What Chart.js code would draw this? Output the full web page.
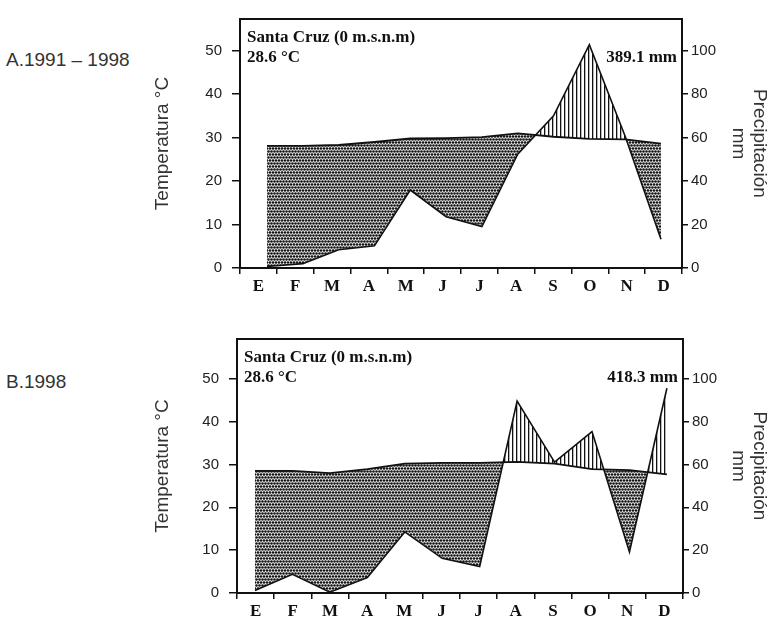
<!DOCTYPE html>
<html>
<head>
<meta charset="utf-8">
<script src="https://cdn.jsdelivr.net/npm/chart.js@4.4.0/dist/chart.umd.min.js"></script>
<style>
  body { margin: 0; background: #fff; width: 770px; height: 622px; position: relative; overflow: hidden; }
  .tag { position: absolute; left: 6px; font: 19px/19px "Liberation Sans", Arial, sans-serif; color: #333; }
  canvas { position: absolute; left: 0; }
</style>
</head>
<body>
<div class="tag" style="top:50px">A.1991 – 1998</div>
<div class="tag" style="top:372px">B.1998</div>
<canvas id="chartA" width="770" height="300" style="top:0"></canvas>
<canvas id="chartB" width="770" height="302" style="top:320px"></canvas>
<script>
// months (Spanish initials) and axis ticks
const months = ['E', 'F', 'M', 'A', 'M', 'J', 'J', 'A', 'S', 'O', 'N', 'D'];
const tempTicks = [0, 10, 20, 30, 40, 50];
const rainTicks = [0, 20, 40, 60, 80, 100];

// A. 1991 - 1998
const tempA = [28.1, 28.1, 28.3, 29.0, 29.8, 29.9, 30.1, 31.0, 30.2, 29.7, 29.6, 28.6];
const rainA = [0.7, 2, 8.4, 10.2, 35.9, 23.6, 19.1, 52.4, 70, 102.8, 60.6, 13.2];

// B. 1998
const tempB = [28.5, 28.5, 28.0, 28.9, 30.2, 30.4, 30.4, 30.6, 30.2, 28.9, 28.7, 27.7];
const rainB = [1.2, 8.7, 0.4, 7.2, 28.5, 16.2, 12.4, 89.6, 61.1, 75.4, 19.2, 95.6];

const station = 'Santa Cruz (0 m.s.n.m)';
const meanTemp = ['28.6 °C', '28.6 °C'];
const totalRain = ['389.1 mm', '418.3 mm'];

const sans = '"Liberation Sans", Arial, sans-serif';
const serif = '"Liberation Serif", "Times New Roman", serif';

// dry season stipple
function dotPattern() {
  const c = document.createElement('canvas');
  c.width = 6; c.height = 6;
  const g = c.getContext('2d');
  g.fillStyle = '#f4f4f4';
  g.fillRect(0, 0, 6, 6);
  g.fillStyle = '#141414';
  [[1.5, 1.5], [4.5, 1.5], [0, 4.5], [3, 4.5], [6, 4.5]].forEach(([x, y]) => {
    g.beginPath(); g.arc(x, y, 1.3, 0, Math.PI * 2); g.fill();
  });
  return g.createPattern(c, 'repeat');
}

// humid season vertical hatching
function stripePattern() {
  const c = document.createElement('canvas');
  c.width = 4; c.height = 4;
  const g = c.getContext('2d');
  g.fillStyle = '#fff';
  g.fillRect(0, 0, 4, 4);
  g.fillStyle = '#111';
  g.fillRect(0, 0, 1.3, 4);
  return g.createPattern(c, 'repeat');
}

const framePlugin = {
  id: 'frame',
  afterDraw(chart, args, opts) {
    const { ctx, chartArea: a } = chart;
    ctx.save();
    ctx.lineWidth = 2;
    ctx.strokeStyle = '#111';
    ctx.strokeRect(a.left, a.top, a.right - a.left, a.bottom - a.top);
    ctx.fillStyle = '#111';
    ctx.font = 'bold 17px ' + serif;
    ctx.textAlign = 'left';
    ctx.fillText(opts.station, a.left + 7, a.top + 23);
    ctx.fillText(opts.temp, a.left + 7, a.top + 43);
    ctx.textAlign = 'right';
    ctx.fillText(opts.rain, a.right - 5, a.top + 43);
    ctx.restore();
  }
};

function makeChart(id, temp, rain, box, notes) {
  const axisGrid = { drawOnChartArea: false, color: '#111', lineWidth: 1.5 };
  new Chart(document.getElementById(id), {
    type: 'line',
    data: {
      datasets: [
        {
          label: 'Temperatura',
          data: temp.map((v, i) => ({ x: i, y: v })),
          yAxisID: 'y',
          borderColor: '#111',
          borderWidth: 1.8,
          pointRadius: 0,
          fill: false
        },
        {
          label: 'Precipitación',
          data: rain.map((v, i) => ({ x: i, y: v })),
          yAxisID: 'y2',
          borderColor: '#111',
          borderWidth: 1.6,
          pointRadius: 0,
          fill: { target: 0, above: stripePattern(), below: dotPattern() }
        }
      ]
    },
    options: {
      responsive: false,
      animation: false,
      layout: { padding: { left: 150, right: 0, top: box.top, bottom: 0 } },
      plugins: { legend: { display: false }, tooltip: { enabled: false }, frame: notes },
      scales: {
        x: { type: 'linear', display: false, min: box.xMin, max: box.xMax },
        months: {
          type: 'category', axis: 'x', position: 'bottom', labels: months, offset: true,
          grid: { ...axisGrid, offset: true, tickLength: 6 },
          border: { display: false },
          ticks: { font: { family: serif, size: 17, weight: 'bold' }, color: '#111', padding: 2, maxRotation: 0, autoSkip: false },
          afterFit: s => { s.height = box.bottomH; }
        },
        y: {
          position: 'left', min: 0, max: box.yMax,
          grid: { ...axisGrid, tickLength: 8 },
          border: { display: false },
          ticks: { font: { family: sans, size: 15 }, color: '#222', padding: 10 },
          afterBuildTicks: s => { s.ticks = tempTicks.map(v => ({ value: v })); },
          title: { display: true, text: 'Temperatura °C', color: '#333', font: { family: sans, size: 19, lineHeight: 1.1 }, padding: { top: 2.5, bottom: 0 } },
          afterFit: s => { s.width = box.leftW; }
        },
        y2: {
          position: 'right', min: 0, max: box.yMax * 2,
          grid: { ...axisGrid, tickLength: 6 },
          border: { display: false },
          ticks: { font: { family: sans, size: 15 }, color: '#222', padding: 3 },
          afterBuildTicks: s => { s.ticks = rainTicks.map(v => ({ value: v })); },
          title: { display: true, text: ['Precipitación', 'mm'], color: '#333', font: { family: sans, size: 19, lineHeight: 1.1 }, padding: { top: 0, bottom: 0 } },
          afterFit: s => { s.width = box.rightW; }
        }
      }
    },
    plugins: [framePlugin]
  });
}

makeChart('chartA', tempA, rainA,
  { top: 10, bottomH: 32, leftW: 90, rightW: 88, yMax: 57.3, xMin: -0.754, xMax: 11.587 },
  { station: station, temp: meanTemp[0], rain: totalRain[0] });

makeChart('chartB', tempB, rainB,
  { top: 9, bottomH: 29, leftW: 87, rightW: 87, yMax: 59.3, xMin: -0.48, xMax: 11.43 },
  { station: station, temp: meanTemp[1], rain: totalRain[1] });
</script>
</body>
</html>
